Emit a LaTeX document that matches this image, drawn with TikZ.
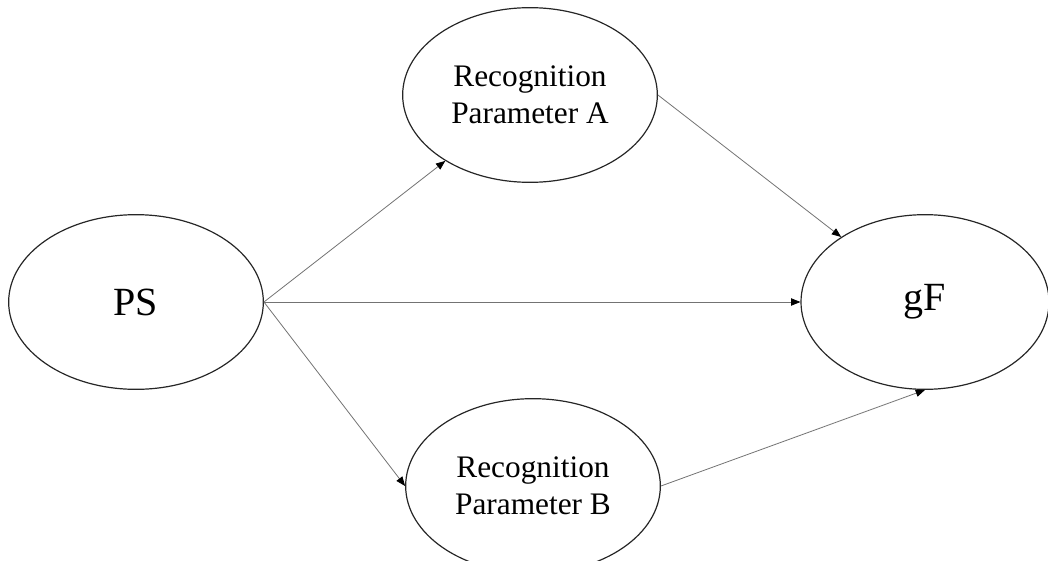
\documentclass[tikz,border=0pt]{standalone}
\usepackage{fontspec}
\setmainfont{Liberation Serif}
\usetikzlibrary{shapes.geometric,arrows.meta}

\tikzset{
  latent/.style={ellipse, draw=black!85, line width=0.9pt, minimum width=191pt, minimum height=131pt, inner sep=0pt, align=center},
  bigtxt/.style={font=\fontsize{30}{36}\selectfont},
  smalltxt/.style={font=\fontsize{23.5}{28}\selectfont},
  path/.style={draw=black!55, line width=0.6pt, -{Triangle[length=7pt,width=5.5pt,black]}}
}

\begin{document}
\begin{tikzpicture}[x=0.75pt,y=-0.75pt]
    % Rahmen
    \useasboundingbox (0,0) rectangle (1048,560);

    % Latente Variablen
    \node[latent, bigtxt] (ps) at (136,302) {PS};
    \node[latent, bigtxt, minimum width=186pt] (gf) at (925,302) {gF};
    \node[latent, smalltxt] (ra) at (530,95) {Recognition\\Parameter A};
    \node[latent, smalltxt] (rb) at (533,486) {Recognition\\Parameter B};

    % Pfade
    \draw[path] (ps.east) -- (ra);
    \draw[path] (ps.east) -- (gf.west);
    \draw[path] (ps.east) -- (rb.west);
    \draw[path] (ra.east) -- (gf);
    \draw[path] (rb.east) -- (gf.south);
\end{tikzpicture}
\end{document}
